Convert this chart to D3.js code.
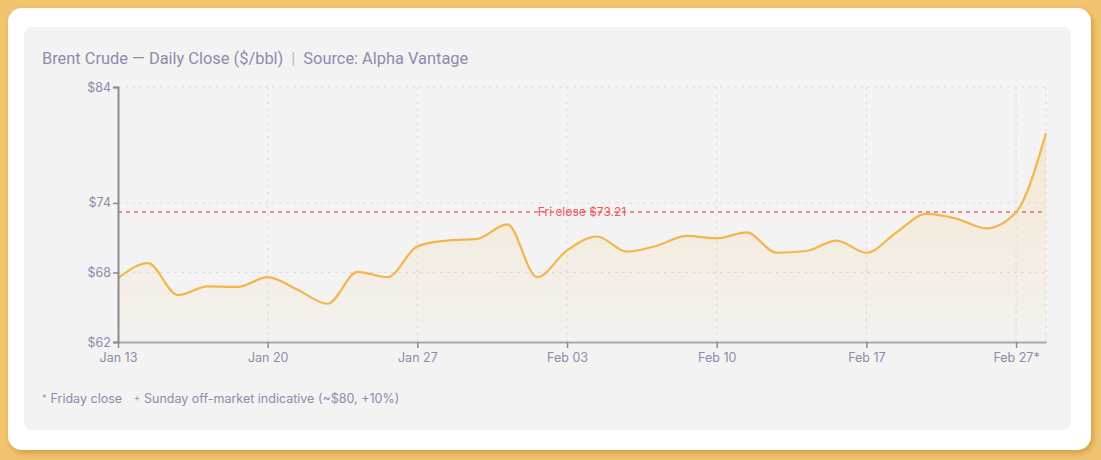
<!DOCTYPE html>
<html>
<head>
<meta charset="utf-8">
<script src="https://cdn.jsdelivr.net/npm/d3@7"></script>
<style>
  html, body { margin: 0; padding: 0; background: #f3c470; }
  svg { display: block; }
  .axis text { font-family: Inter, sans-serif; font-size: 12.5px; fill: #8f8aad; }
</style>
</head>
<body>
<div id="chart"></div>
<script>
// one point per session, last one is the Sunday indicative
const dates = [
  'Jan 13', 'Jan 14', 'Jan 15', 'Jan 16', 'Jan 17',
  'Jan 20', 'Jan 21', 'Jan 22', 'Jan 23', 'Jan 24',
  'Jan 27', 'Jan 28', 'Jan 29', 'Jan 30', 'Jan 31',
  'Feb 03', 'Feb 04', 'Feb 05', 'Feb 06', 'Feb 07',
  'Feb 10', 'Feb 11', 'Feb 12', 'Feb 13', 'Feb 14',
  'Feb 17', 'Feb 19', 'Feb 20', 'Feb 24', 'Feb 26',
  'Feb 27', 'Mar 01'
];
const closes = [
  67.5, 68.8, 66.05, 66.8, 66.75,
  67.6, 66.5, 65.3, 68.05, 67.6,
  70.25, 70.75, 70.9, 72.15, 67.6,
  69.9, 71.1, 69.8, 70.3, 71.15,
  70.95, 71.45, 69.7, 69.85, 70.75,
  69.7, 71.45, 73.05, 72.65, 71.8,
  73.21, 80.0
];
const tickDates = ['Jan 13', 'Jan 20', 'Jan 27', 'Feb 03', 'Feb 10', 'Feb 17', 'Feb 27'];
const tickLabels = ['Jan 13', 'Jan 20', 'Jan 27', 'Feb 03', 'Feb 10', 'Feb 17', 'Feb 27*'];
const yTicks = [62, 68, 74, 84];
const fridayClose = 73.21;

const W = 1101, H = 460;
const margin = {top: 87, right: 55, bottom: 118, left: 118};
const width = W - margin.left - margin.right,
  height = H - margin.top - margin.bottom;

const data = dates.map((d, i) => ({date: d, close: closes[i]}));

const x = d3.scalePoint()
  .domain(dates)
  .range([0, width]);

const y = d3.scaleLinear()
  .domain([62, 84])
  .range([height, 0]);

const svgTop = d3.select('#chart').append('svg')
  .attr('width', W)
  .attr('height', H);

const defs = svgTop.append('defs');
const shadow = defs.append('filter').attr('id', 'shadow')
  .attr('x', '-5%').attr('y', '-5%').attr('width', '110%').attr('height', '115%');
shadow.append('feDropShadow')
  .attr('dx', 2).attr('dy', 3).attr('stdDeviation', 3)
  .attr('flood-color', '#9a6a10').attr('flood-opacity', 0.45);

const grad = defs.append('linearGradient').attr('id', 'fill')
  .attr('x1', 0).attr('y1', 0).attr('x2', 0).attr('y2', 1);
grad.append('stop').attr('offset', '0%').attr('stop-color', '#f6b94a').attr('stop-opacity', 0.2);
grad.append('stop').attr('offset', '100%').attr('stop-color', '#f6b94a').attr('stop-opacity', 0.02);

// card + panel
svgTop.append('rect')
  .attr('x', 8).attr('y', 8).attr('width', 1083).attr('height', 442)
  .attr('rx', 14).attr('fill', '#ffffff')
  .attr('filter', 'url(#shadow)');
svgTop.append('rect')
  .attr('x', 24).attr('y', 27).attr('width', 1047).attr('height', 403)
  .attr('rx', 8).attr('fill', '#f3f3f3');

// title
const title = svgTop.append('text')
  .attr('x', 42).attr('y', 64)
  .attr('font-family', 'Roboto, sans-serif')
  .attr('font-size', 16.4)
  .attr('fill', '#8f8aad');
title.append('tspan').text('Brent Crude \u2014 Daily Close ($/bbl)');
title.append('tspan').attr('dx', 8).attr('fill', '#b9b6d4').text('|');
title.append('tspan').attr('dx', 8).text('Source: Alpha Vantage');

const svg = svgTop.append('g')
  .attr('transform', `translate(${margin.left},${margin.top})`);

// grid
svg.append('g')
  .selectAll('line')
  .data(yTicks.slice(1))
  .enter().append('line')
    .attr('x1', 0).attr('x2', width)
    .attr('y1', y).attr('y2', y)
    .attr('stroke', '#dcdcdc')
    .attr('stroke-dasharray', '3,4');

svg.append('g')
  .selectAll('line')
  .data(tickDates.slice(1).map(x).concat([width]))
  .enter().append('line')
    .attr('x1', d => d).attr('x2', d => d)
    .attr('y1', 0).attr('y2', height)
    .attr('stroke', '#dcdcdc')
    .attr('stroke-dasharray', '3,4');

// area + line
const area = d3.area()
  .x(d => x(d.date))
  .y0(height)
  .y1(d => y(d.close))
  .curve(d3.curveMonotoneX);

const line = d3.line()
  .x(d => x(d.date))
  .y(d => y(d.close))
  .curve(d3.curveMonotoneX);

svg.append('path')
  .datum(data)
  .attr('d', area)
  .attr('fill', 'url(#fill)');

// friday close reference
svg.append('line')
  .attr('x1', 0).attr('x2', width)
  .attr('y1', y(fridayClose)).attr('y2', y(fridayClose))
  .attr('stroke', '#f0686c')
  .attr('stroke-width', 1.5)
  .attr('stroke-dasharray', '4,4');

svg.append('text')
  .attr('x', width / 2)
  .attr('y', y(fridayClose))
  .attr('dy', '0.35em')
  .attr('text-anchor', 'middle')
  .attr('font-family', 'Inter, sans-serif')
  .attr('font-size', 12)
  .attr('fill', '#f0575c')
  .text('Fri close $' + d3.format('.2f')(fridayClose));

svg.append('path')
  .datum(data)
  .attr('d', line)
  .attr('fill', 'none')
  .attr('stroke', '#f5b54a')
  .attr('stroke-width', 2.2);

// axes
const xAxis = d3.axisBottom(x)
  .tickValues(tickDates)
  .tickFormat((d, i) => tickLabels[i])
  .tickSizeInner(6)
  .tickSizeOuter(0);

const yAxis = d3.axisLeft(y)
  .tickValues(yTicks)
  .tickFormat(d => '$' + d)
  .tickSize(5)
  .tickSizeOuter(5);

const gx = svg.append('g')
  .attr('class', 'x axis')
  .attr('transform', `translate(0,${height})`)
  .call(xAxis);
gx.select('.domain').attr('stroke', '#a8a8a8').attr('stroke-width', 2);
gx.selectAll('.tick line').attr('stroke', '#8c8c8c').attr('stroke-width', 1.5);
gx.selectAll('.tick text').attr('dy', '0.85em');

const gy = svg.append('g')
  .attr('class', 'y axis')
  .call(yAxis);
gy.select('.domain').attr('stroke', '#8c8c8c').attr('stroke-width', 2);
gy.selectAll('.tick line').attr('stroke', '#8c8c8c').attr('stroke-width', 1.5);
gy.selectAll('.tick text').attr('x', -7);

// footnote
const foot = svgTop.append('text')
  .attr('x', 42).attr('y', 403)
  .attr('font-family', 'Inter, sans-serif')
  .attr('font-size', 12.5)
  .attr('fill', '#8f8aad');
foot.append('tspan').attr('font-size', 9).attr('dy', -2).text('*');
foot.append('tspan').attr('dy', 2).attr('dx', 4).text('Friday close');
foot.append('tspan').attr('font-size', 9).attr('dy', -2).attr('dx', 12).text('+');
foot.append('tspan').attr('dy', 2).attr('dx', 4).text('Sunday off-market indicative (~$80, +10%)');
</script>
</body>
</html>
